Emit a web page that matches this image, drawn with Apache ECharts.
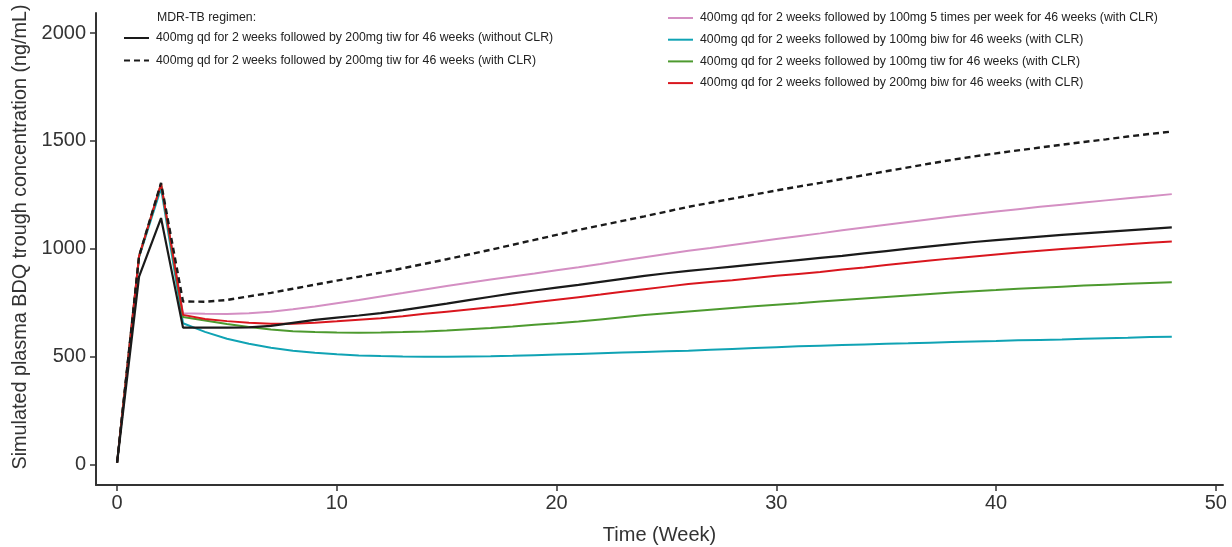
<!DOCTYPE html>
<html>
<head>
<meta charset="utf-8">
<script src="https://cdn.jsdelivr.net/npm/echarts@6/dist/echarts.min.js"></script>
<style>
    html, body { margin: 0; padding: 0; background: #fff; }
    #chart { width: 1232px; height: 547px; }
</style>
</head>
<body>
<div id="chart"></div>
<script>
    // weeks 0..48
    const weeks = [];
    for (let w = 0; w <= 48; w++) weeks.push(w);

    const xTicks = [0, 10, 20, 30, 40, 50];
    const yTicks = [0, 500, 1000, 1500, 2000];

    const legendTitle = "MDR-TB regimen:";

    const names = [
        "400mg qd for 2 weeks followed by 200mg tiw for 46 weeks (without CLR)",
        "400mg qd for 2 weeks followed by 200mg tiw for 46 weeks (with CLR)",
        "400mg qd for 2 weeks followed by 100mg 5 times per week for 46 weeks (with CLR)",
        "400mg qd for 2 weeks followed by 100mg biw for 46 weeks (with CLR)",
        "400mg qd for 2 weeks followed by 100mg tiw for 46 weeks (with CLR)",
        "400mg qd for 2 weeks followed by 200mg biw for 46 weeks (with CLR)"
    ];

    // 200mg tiw, without CLR (black solid)
    const tiw200NoClr = [8, 870, 1142, 634, 634, 634, 635, 642, 656, 670,
        680, 690, 701, 715, 730, 745, 761, 777, 793, 806,
        819, 832, 846, 860, 874, 886, 897, 907, 917, 927,
        937, 947, 957, 967, 978, 989, 1000, 1011, 1021, 1031,
        1040, 1048, 1056, 1064, 1071, 1078, 1085, 1092, 1099];

    // 200mg tiw, with CLR (black dashed)
    const tiw200Clr = [8, 965, 1305, 755, 754, 762, 779, 795, 814, 833,
        852, 870, 889, 909, 930, 951, 973, 995, 1018, 1041,
        1064, 1087, 1108, 1129, 1150, 1172, 1194, 1213, 1232, 1251,
        1270, 1288, 1305, 1323, 1341, 1359, 1377, 1395, 1412, 1428,
        1442, 1456, 1469, 1482, 1495, 1507, 1520, 1532, 1543];

    // 100mg 5 times per week, with CLR (pink)
    const five100Clr = [8, 965, 1300, 700, 698, 697, 700, 708, 719, 732,
        747, 762, 778, 794, 811, 827, 842, 857, 871, 885,
        900, 914, 929, 945, 960, 975, 990, 1003, 1017, 1031,
        1045, 1058, 1071, 1085, 1098, 1111, 1124, 1137, 1149, 1161,
        1172, 1183, 1194, 1204, 1214, 1224, 1234, 1243, 1253];

    // 100mg biw, with CLR (cyan)
    const biw100Clr = [8, 960, 1280, 654, 614, 582, 559, 541, 527, 517,
        510, 505, 502, 500, 499, 499, 500, 501, 503, 506,
        509, 512, 515, 518, 521, 524, 527, 531, 535, 539,
        543, 547, 550, 553, 556, 559, 561, 564, 567, 570,
        572, 575, 577, 579, 582, 585, 587, 590, 592];

    // 100mg tiw, with CLR (green)
    const tiw100Clr = [8, 965, 1300, 683, 667, 651, 637, 625, 617, 613,
        611, 610, 611, 613, 616, 620, 626, 632, 639, 647,
        654, 662, 672, 682, 692, 701, 709, 717, 725, 733,
        740, 747, 755, 762, 769, 776, 783, 790, 797, 803,
        808, 814, 819, 824, 829, 833, 837, 841, 844];

    // 200mg biw, with CLR (red)
    const biw200Clr = [8, 965, 1300, 693, 674, 664, 657, 652, 652, 657,
        663, 670, 677, 687, 698, 708, 718, 728, 739, 751,
        763, 775, 787, 800, 812, 824, 836, 845, 854, 864,
        874, 883, 892, 903, 913, 924, 935, 945, 955, 964,
        973, 982, 990, 998, 1006, 1013, 1020, 1027, 1033];

    const pairs = (vals) => weeks.map((w, i) => [w, vals[i]]);

    const fontFamily = "'Liberation Sans', Arial, sans-serif";
    const axisColor = "#333";

    const line = (name, vals, color, width, dash) => ({
        name: name,
        type: "line",
        data: pairs(vals),
        symbol: "none",
        showSymbol: false,
        color: color,
        lineStyle: { color: color, width: width, type: dash ? [6, 4] : "solid" },
        emphasis: { disabled: true }
    });

    const legendBase = {
        orient: "vertical",
        padding: 0,
        itemWidth: 25,
        itemHeight: 14,
        selectedMode: false,
        itemStyle: { opacity: 0 },
        textStyle: { fontSize: 12.3, color: "#222", fontFamily: fontFamily, padding: [0, 0, 0, 2] }
    };

    const chart = echarts.init(document.getElementById("chart"), null, { renderer: "canvas" });

    const option = {
        animation: false,
        backgroundColor: "#fff",
        textStyle: { fontFamily: fontFamily },
        title: {
            text: legendTitle,
            left: 152,
            top: 7,
            textStyle: { fontSize: 12.3, fontWeight: "normal", color: "#222", fontFamily: fontFamily }
        },
        legend: [
            Object.assign({}, legendBase, {
                data: [names[0], names[1]],
                left: 123,
                top: 32,
                itemGap: 10.5
            }),
            Object.assign({}, legendBase, {
                data: [names[2], names[3], names[4], names[5]],
                left: 667,
                top: 12,
                itemGap: 9.7
            })
        ],
        grid: {
            left: 96,
            right: 9,
            top: 13,
            bottom: 62,
            containLabel: false,
            outerBoundsMode: "none"
        },
        xAxis: {
            type: "value",
            min: -0.96,
            max: 50.33,
            name: "Time (Week)",
            nameLocation: "middle",
            nameGap: 40,
            nameTextStyle: { fontSize: 20, color: axisColor, fontFamily: fontFamily },
            axisLine: { onZero: false, lineStyle: { color: axisColor, width: 2 } },
            axisTick: { show: true, length: 6, lineStyle: { color: axisColor, width: 1.5 }, customValues: xTicks },
            axisLabel: { fontSize: 20, color: axisColor, margin: 8, customValues: xTicks, formatter: (v) => String(v) },
            splitLine: { show: false }
        },
        yAxis: {
            type: "value",
            min: -96,
            max: 2093,
            name: "Simulated plasma BDQ trough concentration (ng/mL)",
            nameLocation: "middle",
            nameGap: 63,
            nameTextStyle: { fontSize: 19.8, color: axisColor, fontFamily: fontFamily, padding: [0, 0, 0, 24] },
            axisLine: { show: true, onZero: false, lineStyle: { color: axisColor, width: 2 } },
            axisTick: { show: true, length: 6, lineStyle: { color: axisColor, width: 1.5 }, customValues: yTicks },
            axisLabel: { fontSize: 20, color: axisColor, margin: 10, customValues: yTicks, formatter: (v) => String(v) },
            splitLine: { show: false }
        },
        series: [
            line(names[2], five100Clr, "#d48fc3", 2, false),
            line(names[3], biw100Clr, "#10a3b4", 2, false),
            line(names[4], tiw100Clr, "#4d9a2f", 2, false),
            line(names[5], biw200Clr, "#d9161e", 2, false),
            line(names[0], tiw200NoClr, "#1a1a1a", 2.2, false),
            line(names[1], tiw200Clr, "#1a1a1a", 2.4, true)
        ]
    };

    chart.setOption(option);
</script>
</body>
</html>
